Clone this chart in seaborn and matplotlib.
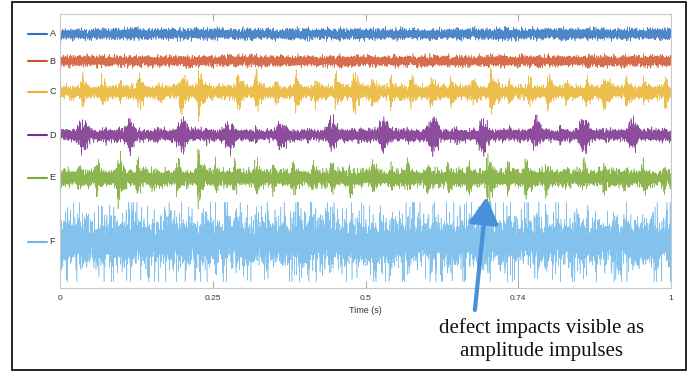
import matplotlib.pyplot as plt
import seaborn as sns
import pandas as pd
import numpy as np
from matplotlib.patches import Rectangle
import matplotlib.transforms as mtransforms

# channels and their colours
channels = ["A", "B", "C", "D", "E", "F"]
colors = ["#2f72c0", "#d0532a", "#e9b42e", "#7a2d8c", "#79aa33", "#6cb8ea"]

# half-width of the background band per channel (px-like units)
base_amp = [5, 5, 6, 5.5, 7.5, 18]

# impulse times (s)
C_hits = [0.036, 0.068, 0.097, 0.128, 0.161, 0.197, 0.226, 0.290, 0.320, 0.352, 0.385,
          0.418, 0.451, 0.480, 0.511, 0.541, 0.574, 0.607, 0.639, 0.675, 0.705, 0.734,
          0.767, 0.798, 0.828, 0.861, 0.890, 0.926, 0.956, 0.989]
C_amp = [16, 15, 12, 18, 12, 22, 24, 20, 19, 14, 18,
         15, 18, 20, 17, 14, 16, 17, 15, 14, 24, 14,
         15, 20, 14, 16, 21, 17, 14, 16]

D_bursts = [0.038, 0.115, 0.200, 0.279, 0.364, 0.446, 0.530, 0.611, 0.693, 0.779, 0.857, 0.939]
D_amp = [16, 14, 16, 15, 13, 14, 15, 17, 16, 14, 17, 15]
D_small = [0.075, 0.160, 0.240, 0.320, 0.405, 0.490, 0.570, 0.650, 0.735, 0.818, 0.898, 0.980]
D_small_amp = [10, 9, 10, 9, 9, 10, 9, 10, 9, 10, 9, 9]

E_hits = [0.030, 0.060, 0.095, 0.126, 0.150, 0.191, 0.226, 0.254, 0.284, 0.320, 0.349,
          0.380, 0.413, 0.443, 0.475, 0.511, 0.541, 0.568, 0.601, 0.634, 0.667, 0.700,
          0.732, 0.762, 0.795, 0.828, 0.857, 0.890, 0.923, 0.954, 0.986]
E_amp = [13, 17, 25, 17, 15, 19, 24, 16, 17, 18, 15,
         17, 16, 15, 16, 17, 14, 14, 15, 16, 15, 26,
         15, 22, 16, 15, 16, 17, 15, 16, 15]

tick_pos = [0, 0.25, 0.5, 0.75, 1]
tick_labels = ["0", "0.25", "0.5", "0.74", "1"]

# vertical placement of each trace (layout)
offsets = [254, 227, 196, 153, 110, 46]

n = 12000
t = np.linspace(0, 1, n)
rng = np.random.default_rng(7)  # only the fine carrier texture, envelopes come from the lists above


def impulse_env(times, amps, tau=0.012, rise=0.003):
    env = np.zeros_like(t)
    for ti, a in zip(times, amps):
        dt = t - ti
        shape = np.where(dt >= 0, np.exp(-dt / tau), np.exp(dt / rise))
        env = np.maximum(env, a * shape)
    return env


def burst_env(times, amps, sig=0.008):
    env = np.zeros_like(t)
    for ti, a in zip(times, amps):
        env = np.maximum(env, a * np.exp(-0.5 * ((t - ti) / sig) ** 2))
    return env


envs = [
    np.full(n, base_amp[0]),
    np.full(n, base_amp[1]),
    np.maximum(base_amp[2], impulse_env(C_hits, C_amp)),
    np.maximum(base_amp[3], np.maximum(burst_env(D_bursts, D_amp), impulse_env(D_small, D_small_amp, 0.004, 0.002))),
    np.maximum(base_amp[4], impulse_env(E_hits, E_amp)),
    np.full(n, base_amp[5]),
]

rows = []
for ch, off, env in zip(channels, offsets, envs):
    if ch == "F":
        carrier = np.clip(rng.standard_t(5, n) / 2.0, -2.2, 2.2)
    else:
        carrier = np.clip(rng.standard_normal(n) / 2.0, -1.5, 1.5)
    rows.append(pd.DataFrame({"time": t, "value": off + env * carrier, "channel": ch}))
df = pd.concat(rows, ignore_index=True)

sns.set_style("white")
plt.rcParams["font.family"] = ["Liberation Sans", "DejaVu Sans"]

fig = plt.figure(figsize=(6.96, 3.76), dpi=100)
ax = fig.add_axes([60 / 696, 1 - 288 / 376, 611 / 696, 274 / 376])

sns.lineplot(data=df, x="time", y="value", hue="channel", palette=dict(zip(channels, colors)),
             estimator=None, linewidth=0.4, alpha=0.85, legend=False, ax=ax)

ax.set_xlim(0, 1)
ax.set_ylim(0, 274)
ax.set_xticks(tick_pos)
ax.set_xticklabels(tick_labels)
ax.set_yticks([])
ax.set_ylabel("")
ax.set_xlabel("Time (s)", fontsize=6.5, color="#333333", labelpad=3)
ax.tick_params(axis="x", direction="in", length=5, width=0.6, color="#999999",
               labelsize=6, labelcolor="#333333", top=True, bottom=True, pad=5)
for s in ax.spines.values():
    s.set_color("#c8c8c8")
    s.set_linewidth(0.8)

# legend entries beside each trace
trans = mtransforms.blended_transform_factory(ax.transAxes, ax.transData)
for ch, col, off in zip(channels, colors, offsets):
    ax.plot([-0.052, -0.022], [off, off], color=col, lw=1.5, transform=trans, clip_on=False)
    ax.text(-0.017, off, ch, transform=trans, fontsize=6.5, color="#333333", va="center", ha="left")

# annotation arrow + text
ax.annotate("", xy=(0.698, 91), xytext=(0.679, -22),
            arrowprops=dict(arrowstyle="-|>,head_length=0.8,head_width=0.45", lw=3, mutation_scale=20,
                            color="#4a90d9", shrinkA=0, shrinkB=0),
            annotation_clip=False)
fig.text(542 / 696, 1 - 339.5 / 376, "defect impacts visible as\namplitude impulses",
         family=["Liberation Serif", "DejaVu Serif"], fontsize=15, ha="center", va="center",
         linespacing=1.35, color="#111111")

# outer frame
fig.patches.append(Rectangle((12 / 696, 1 - 370 / 376), 674 / 696, 368 / 376, transform=fig.transFigure,
                             fill=False, edgecolor="black", lw=1.2))

plt.savefig("out.png", dpi=100)
